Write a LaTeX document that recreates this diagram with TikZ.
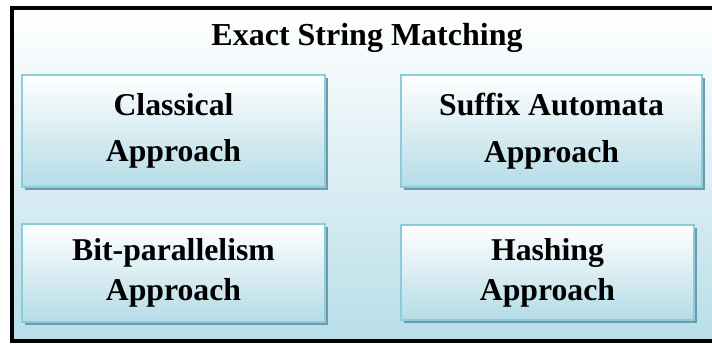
\documentclass[tikz,border=0pt]{standalone}
\usepackage{fontspec}
\setmainfont{Liberation Serif}
\usetikzlibrary{shadows}

\definecolor{framebot}{RGB}{184,222,232}
\definecolor{boxline}{RGB}{140,203,220}
\definecolor{boxbot}{RGB}{180,220,230}
\definecolor{boxshade}{RGB}{110,155,167}

\begin{document}
\begin{tikzpicture}[x=0.75pt,y=0.75pt,yscale=-1,xscale=1,
  approach/.style={draw=boxline, line width=1.8pt, top color=white, bottom color=boxbot,
    drop shadow={opacity=1, fill=boxshade, shadow xshift=2.25pt, shadow yshift=-2.25pt},
    align=center, inner sep=0pt, font=\bfseries\fontsize{23.8}{35}\selectfont}]
\useasboundingbox (0,0) rectangle (712,345);

%Frame
\draw[line width=3pt, top color=white, bottom color=framebot] (12,8) rectangle (716,341);

% Title
\node (title) at (367,38) {\bfseries\fontsize{24}{28}\selectfont Exact String Matching};

% Approach boxes
\node[approach, minimum width=227.25pt, minimum height=84pt] (classical) at (173.5,131) {Classical\\Approach};
\node[approach, minimum width=225.75pt, minimum height=84pt] (suffix) at (551.5,131) {Suffix Automata\\Approach};
\node[approach, minimum width=227.25pt, minimum height=73.5pt, font=\bfseries\fontsize{23.8}{30}\selectfont] (bitpar) at (173.5,273) {Bit-parallelism\\Approach};
\node[approach, minimum width=219.75pt, minimum height=71.25pt, font=\bfseries\fontsize{23.8}{30}\selectfont] (hashing) at (547.5,272.5) {Hashing\\Approach};

\end{tikzpicture}
\end{document}
